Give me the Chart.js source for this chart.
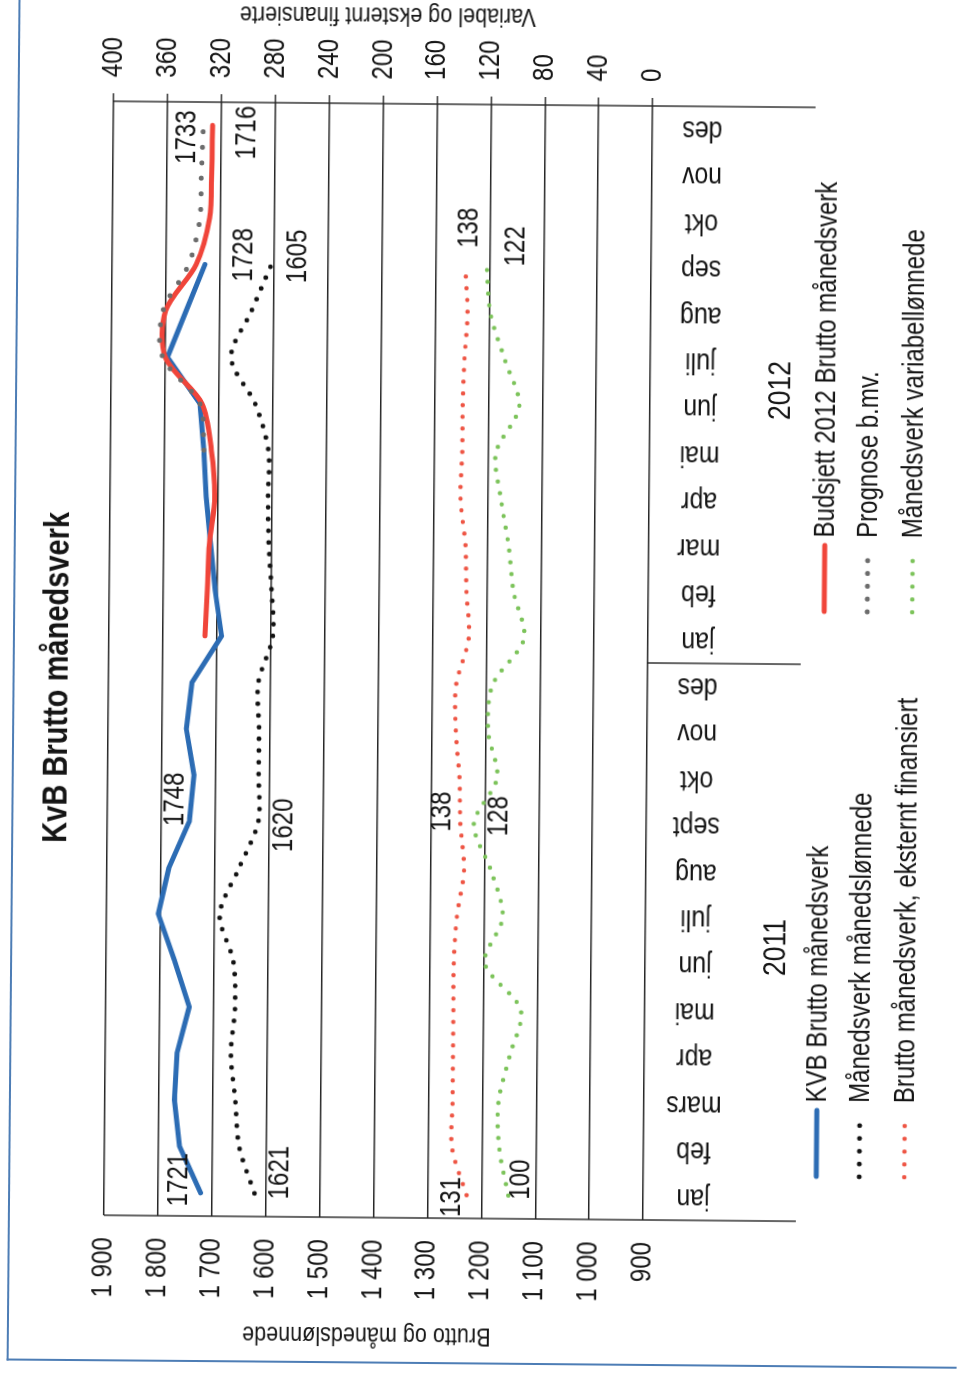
<!DOCTYPE html>
<html lang="no">
<head>
<meta charset="utf-8">
<title>KvB Brutto månedsverk</title>
<script src="https://cdn.jsdelivr.net/npm/chart.js@4.4.1/dist/chart.umd.min.js"></script>
<style>
  html, body { margin: 0; padding: 0; background: #fff; }
  body { width: 962px; height: 1377px; overflow: hidden; position: relative; }
  /* the sheet is laid out landscape and turned a quarter turn onto the portrait page */
  #sheet { position: absolute; left: -207.5px; top: 207.5px; width: 1377px; height: 962px;
           transform-origin: 50% 50%; transform: rotate(-89.5deg); overflow: hidden; background: #fff; }
  #frame { position: absolute; left: 13px; top: 12px; width: 1600px; height: 1200px;
           border-left: 2px solid #4d7db5; border-top: 2px solid #4d7db5; }
  #chart { position: absolute; left: 0; top: 0; }
</style>
</head>
<body>
<div id="sheet">
  <div id="frame"></div>
  <canvas id="chart" width="1377" height="962"></canvas>
</div>
<script>
// Month categories, grouped by year
const months2011 = ['jan', 'feb', 'mars', 'apr', 'mai', 'jun', 'juli', 'aug', 'sept', 'okt', 'nov', 'des'];
const months2012 = ['jan', 'feb', 'mar', 'apr', 'mai', 'jun', 'juli', 'aug', 'sep', 'okt', 'nov', 'des'];
const yearLabels = ['2011', '2012'];

// Left axis series (jan 2011 onwards)
const kvbBrutto      = [1721, 1761, 1771, 1767, 1745, 1773, 1804, 1785, 1748, 1740, 1755, 1745,
                        1691, 1704, 1713, 1722, 1727, 1735, 1796, 1762, 1728];
const maanedslonnede = [1621, 1650, 1658, 1667, 1660, 1664, 1690, 1655, 1620, 1620, 1620, 1622,
                        1596, 1599, 1605, 1607, 1607, 1632, 1678, 1641, 1605];
// Budget runs jan-des 2012, the forecast mai-des 2012
const budsjett2012   = [1722, 1718, 1715, 1706, 1713, 1731, 1800, 1800, 1744, 1720, 1717, 1716];
const prognose2012   = [1727, 1735, 1805, 1805, 1758, 1738, 1736, 1733];

// Right axis series (jan 2011 onwards)
const eksterntFinansiert = [131, 142, 142, 142, 142, 142, 140, 135, 138, 139, 142, 142,
                            133, 135, 136, 140, 139, 139, 138, 136, 138];
const variabellonnede    = [100, 107, 108, 100, 92, 119, 106, 115, 128, 111, 118, 115,
                            92, 100, 104, 110, 114, 97, 108, 119, 122];

// Axis tick labels
const leftTickLabels  = ['900', '1 000', '1 100', '1 200', '1 300', '1 400', '1 500', '1 600', '1 700', '1 800', '1 900'];
const rightTickLabels = ['0', '40', '80', '120', '160', '200', '240', '280', '320', '360', '400'];

const FONT = "'Liberation Sans', Arial, sans-serif";
const NARROW = 0.83;          // horizontal squeeze giving a narrow face
const INK = '#151515';
const RULE = '#262626';

const categories = months2011.concat(months2012);
const blanks = (n) => Array(n).fill(null);

const datasets = [
  { label: 'KVB Brutto månedsverk', data: kvbBrutto, yAxisID: 'y',
    borderColor: '#2c6cb4', borderWidth: 5, tension: 0, order: 5 },
  { label: 'Månedsverk månedslønnede', data: maanedslonnede, yAxisID: 'y',
    borderColor: '#121212', borderWidth: 4.8, borderDash: [0, 11.7], tension: 0.3, order: 3 },
  { label: 'Brutto månedsverk, eksternt finansiert', data: eksterntFinansiert, yAxisID: 'y2',
    borderColor: '#ee5544', borderWidth: 4.4, borderDash: [0, 11.7], tension: 0.3, order: 3 },
  { label: 'Budsjett 2012 Brutto månedsverk', data: blanks(12).concat(budsjett2012), yAxisID: 'y',
    borderColor: '#f0453a', borderWidth: 5, tension: 0.3, order: 4 },
  { label: 'Prognose b.mv.', data: blanks(16).concat(prognose2012), yAxisID: 'y',
    borderColor: '#6c6c6c', borderWidth: 5, borderDash: [0, 15.5], tension: 0.3, order: 1 },
  { label: 'Månedsverk variabellønnede', data: variabellonnede, yAxisID: 'y2',
    borderColor: '#7cc35a', borderWidth: 4.4, borderDash: [0, 11.7], tension: 0.3, order: 3 }
];
datasets.forEach(d => Object.assign(d, {
  pointRadius: 0, fill: false, borderCapStyle: 'round', borderJoinStyle: 'round', spanGaps: false
}));

// Legend layout: two columns under the two year groups
const legendEntries = [
  { ds: 0, style: 'line', x0: 204, x1: 270, y: 820, tx: 278 },
  { ds: 1, style: 'dots', x0: 204, x1: 268, y: 863, tx: 278 },
  { ds: 2, style: 'dots', x0: 204, x1: 268, y: 908, tx: 278 },
  { ds: 3, style: 'line', x0: 769, x1: 835, y: 823, tx: 843 },
  { ds: 4, style: 'dots', x0: 769, x1: 833, y: 866, tx: 843 },
  { ds: 5, style: 'dots', x0: 769, x1: 833, y: 911, tx: 843 }
];

// Value callouts, offset from their data point
const valueLabels = [
  { ds: 0, i: 0,  dx: 13,  dy: -21 },
  { ds: 1, i: 0,  dx: 21,  dy: 26 },
  { ds: 2, i: 0,  dx: -2,  dy: -14 },
  { ds: 5, i: 0,  dx: 16,  dy: 13 },
  { ds: 0, i: 8,  dx: 22,  dy: -14 },
  { ds: 1, i: 8,  dx: -3,  dy: 26 },
  { ds: 2, i: 8,  dx: 12,  dy: -18 },
  { ds: 5, i: 8,  dx: 8,   dy: 25 },
  { ds: 0, i: 20, dx: 10,  dy: 39 },
  { ds: 1, i: 20, dx: 9,   dy: 27 },
  { ds: 2, i: 20, dx: 39,  dy: 4 },
  { ds: 5, i: 20, dx: 21,  dy: 29 },
  { ds: 4, i: 23, dx: -12, dy: -16 },
  { ds: 3, i: 23, dx: -7,  dy: 35 }
];

function strokeSeg(ctx, x0, y0, x1, y1) {
  ctx.beginPath(); ctx.moveTo(x0, y0); ctx.lineTo(x1, y1); ctx.stroke();
}

// narrow text: squeezed along its own reading direction
function say(ctx, str, x, y, size, opts = {}) {
  ctx.save();
  ctx.translate(x, y);
  if (opts.rot) ctx.rotate(opts.rot);
  ctx.scale(NARROW, 1);
  ctx.font = (opts.bold ? 'bold ' : '') + size + 'px ' + FONT;
  ctx.textAlign = opts.align || 'center';
  ctx.textBaseline = 'middle';
  ctx.fillStyle = INK;
  ctx.fillText(str, 0, 0);
  ctx.restore();
}

const sheetDecor = {
  id: 'sheetDecor',
  beforeDatasetsDraw(chart) {
    const { ctx, chartArea: a, scales: { x } } = chart;
    ctx.save();
    ctx.strokeStyle = RULE;
    ctx.lineWidth = 1.4;
    // plot edges run on down through the category band
    strokeSeg(ctx, a.left, a.top, a.left, 800);
    strokeSeg(ctx, a.right, a.top, a.right, 810);
    // divider between the two years
    const mid = (x.getPixelForValue(11) + x.getPixelForValue(12)) / 2;
    strokeSeg(ctx, mid, a.bottom, mid, 800);
    ctx.restore();
  },
  afterDatasetsDraw(chart) {
    const { ctx } = chart;
    valueLabels.forEach(l => {
      const pt = chart.getDatasetMeta(l.ds).data[l.i];
      const v = chart.data.datasets[l.ds].data[l.i];
      say(ctx, String(v), pt.x + l.dx, pt.y + l.dy, 29);
    });
  },
  afterDraw(chart) {
    const { ctx, chartArea: a, scales: { x, y, y2 } } = chart;
    const midY = (a.top + a.bottom) / 2;

    // title
    say(ctx, 'KvB Brutto månedsverk', chart.width / 2 + 8, 57, 35, { bold: true });

    // value axes
    y.ticks.forEach((t, i) => say(ctx, leftTickLabels[i], a.left - 22, y.getPixelForValue(t.value), 29, { align: 'right' }));
    y2.ticks.forEach((t, i) => say(ctx, rightTickLabels[i], a.right + 24, y2.getPixelForValue(t.value), 29, { align: 'left' }));
    say(ctx, 'Brutto og månedslønnede', 42, midY - 6, 26, { rot: -Math.PI / 2 });
    say(ctx, 'Variabel og eksternt finansierte', 1362, midY + 4, 26, { rot: -Math.PI / 2 });

    // month labels, turned on end
    categories.forEach((m, i) => say(ctx, m, x.getPixelForValue(i), 697, 30, { rot: -Math.PI / 2 }));

    // year group labels
    yearLabels.forEach((yr, g) => {
      const c = (x.getPixelForValue(g * 12) + x.getPixelForValue(g * 12 + 11)) / 2;
      say(ctx, yr, c - 5, 778, 32);
    });

    // legend
    legendEntries.forEach(e => {
      const ds = chart.data.datasets[e.ds];
      ctx.save();
      ctx.strokeStyle = ds.borderColor;
      ctx.lineCap = 'round';
      if (e.style === 'line') {
        ctx.lineWidth = 5;
      } else {
        ctx.lineWidth = ds.borderWidth;
        ctx.setLineDash([0, (e.x1 - e.x0) / 5]);
      }
      strokeSeg(ctx, e.x0, e.y, e.x1, e.y);
      ctx.restore();
      say(ctx, ds.label, e.tx, e.y + 1, 29, { align: 'left' });
    });
  }
};

Chart.defaults.font.family = FONT;
Chart.defaults.color = INK;

new Chart(document.getElementById('chart'), {
  type: 'line',
  data: { labels: categories, datasets },
  options: {
    responsive: false,
    animation: false,
    layout: { padding: { top: 108, left: 0, right: 0, bottom: 315 } },
    plugins: {
      legend: { display: false },
      tooltip: { enabled: false },
      title: { display: false }
    },
    scales: {
      x: { display: false, offset: true },
      y: {
        position: 'left',
        min: 900, max: 1900,
        afterFit(s) { s.width = 159; },
        ticks: { stepSize: 100, display: false },
        grid: { color: RULE, lineWidth: 1.4, drawTicks: false },
        border: { display: false }
      },
      y2: {
        position: 'right',
        min: 0, max: 400,
        afterFit(s) { s.width = 104; },
        ticks: { stepSize: 40, display: false },
        grid: { drawOnChartArea: false, color: RULE, lineWidth: 1.4, tickLength: 8 },
        border: { display: false }
      }
    }
  },
  plugins: [sheetDecor]
});
</script>
</body>
</html>
